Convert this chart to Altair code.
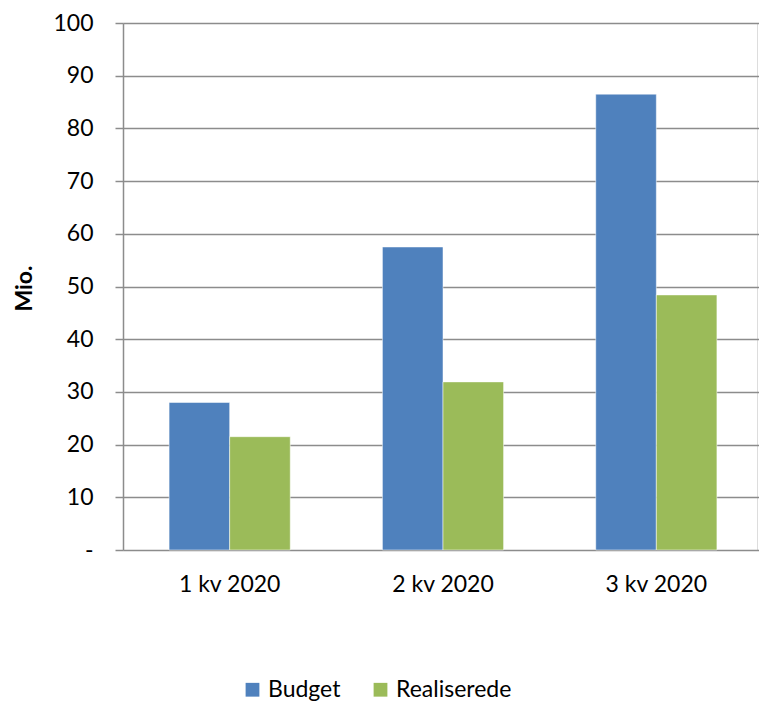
import altair as alt
import pandas as pd

quarters = ["1 kv 2020", "2 kv 2020", "3 kv 2020"]
budget = [28.0, 57.5, 86.5]
realiserede = [21.5, 31.9, 48.4]
series = ["Budget", "Realiserede"]
colors = ["#4F81BD", "#9BBB59"]

rows = []
for q, b, r in zip(quarters, budget, realiserede):
    rows.append({"kvartal": q, "serie": series[0], "v": b})
    rows.append({"kvartal": q, "serie": series[1], "v": r})
df = pd.DataFrame(rows)

FONT = "Lato"

chart = alt.Chart(df).mark_bar(strokeWidth=1, strokeOpacity=0.5, stroke="#ffffff").encode(
    x=alt.X("kvartal:N", sort=quarters, title=None,
            scale=alt.Scale(paddingInner=0.432, paddingOuter=0.216, range=[0, 640]),
            axis=alt.Axis(labelAngle=0, labelFontSize=23, labelFont=FONT, labelColor="#000000",
                          ticks=False, domain=False, labelPadding=23, grid=False)),
    xOffset=alt.XOffset("serie:N", sort=series, scale=alt.Scale(paddingInner=0, paddingOuter=0)),
    y=alt.Y("v:Q", title="Mio.",
            scale=alt.Scale(domain=[0, 100], nice=False),
            axis=alt.Axis(values=list(range(0, 101, 10)), labelExpr="datum.value == 0 ? '-' : datum.label",
                          labelFontSize=23, labelFont=FONT, labelColor="#000000", labelPadding=22,
                          tickSize=8, tickColor="#8c8c8c", tickWidth=1.5,
                          domainColor="#8c8c8c", domainWidth=1.5,
                          gridColor="#8c8c8c", gridWidth=1.5,
                          titleFont=FONT, titleFontSize=23, titleFontWeight="bold",
                          titleColor="#000000", titleX=-99, titleY=265, titleAlign="center",
                          titleBaseline="middle")),
    color=alt.Color("serie:N", sort=series, scale=alt.Scale(domain=series, range=colors),
                    legend=alt.Legend(title=None, orient="none", direction="horizontal",
                                      legendX=118, legendY=655, symbolType="square",
                                      symbolSize=190, labelFontSize=23, labelFont=FONT,
                                      labelColor="#000000", columnPadding=28, symbolStrokeWidth=0)),
).properties(
    width=634, height=527,
    padding={"left": 123, "top": 23, "right": 2, "bottom": 151},
    autosize=alt.AutoSizeParams(type="none"),
).configure_view(stroke=None).configure(background="#ffffff")

chart.save("out.html", embed_options={"renderer": "svg", "actions": False})
